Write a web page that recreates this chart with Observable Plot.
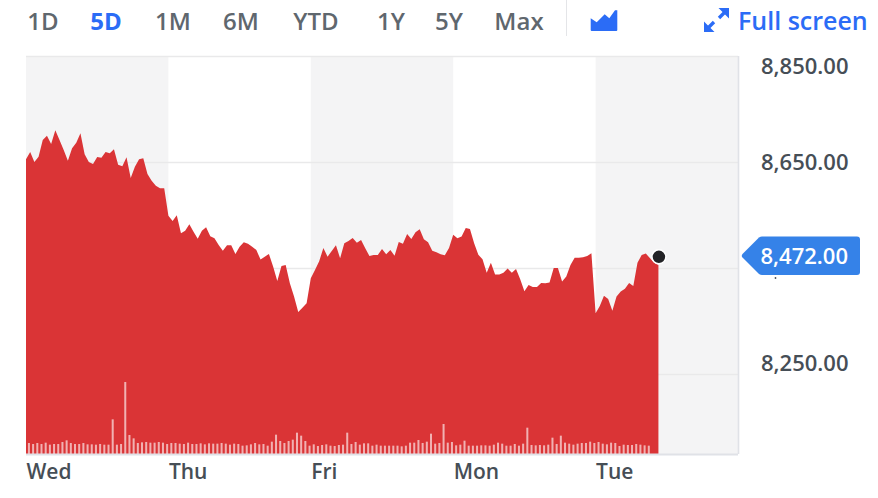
<!DOCTYPE html>
<html>
<head>
<meta charset="utf-8">
<script src="https://cdn.jsdelivr.net/npm/d3@7"></script>
<script src="https://cdn.jsdelivr.net/npm/@observablehq/plot@0.6"></script>
<style>
html,body{margin:0;padding:0;background:#fff;overflow:hidden}
#page{position:relative;width:878px;height:498px;font-family:"Open Sans",sans-serif}
#page svg.plot{position:absolute;left:0;top:0}
.range{position:absolute;top:6px;font-size:24px;font-weight:600;line-height:30px;color:#5f676e;transform:translateX(-50%);white-space:nowrap}
.range.on{color:#2b6cf6;font-weight:700}
#sep{position:absolute;left:566px;top:0;width:1px;height:36px;background:#e4e5e8}
#fs{position:absolute;left:738px;top:5px;font-size:25px;font-weight:600;line-height:30px;color:#2b6cf6;white-space:nowrap}
.ic{position:absolute}
#tag{position:absolute;left:741px;width:120px;height:40px}
#tag span{position:absolute;left:19.5px;top:0;line-height:39px;font-size:22px;font-weight:600;color:#fff;white-space:nowrap}
</style>
</head>
<body>
<div id="page"></div>
<script>
const ranges = ["1D","5D","1M","6M","YTD","1Y","5Y","Max"];
const activeRange = "5D";
const rangeCentres = [43,106,173,241,316,391,449,519];
const days = ["Wed","Thu","Fri","Mon","Tue"];
const dayStarts = [0,34,68,102,136];
const shadedDays = [[0,34],[68,102],[136,170]];
const gridValues = [8850,8650,8450,8250];
const axisValues = [8850,8650,8250];
const axisLabels = ["8,850.00","8,650.00","8,250.00"];
const labelShift = [10,0,-11];
const hiddenLabelValue = 8450;
const lastPrice = 8472;
const lastLabel = "8,472.00";
const lastIndex = 151;
const yMin = 8099;
const yMax = 8850;
const xMax = 170;
const volumeUnit = 0.6289;
const prices = [
8655.0,8668.8,8650.0,8660.0,8691.5,8699.6,8683.9,8709.7,8691.5,8672.6,
8652.5,8675.7,8686.4,8704.0,8664.4,8650.0,8646.2,8659.4,8658.1,8668.8,
8666.3,8673.9,8644.9,8641.8,8658.8,8619.8,8641.2,8655.0,8656.9,8627.3,
8614.7,8605.3,8600.3,8600.3,8548.7,8538.6,8549.3,8515.4,8520.4,8532.4,
8518.5,8505.3,8520.4,8526.7,8509.7,8505.9,8493.4,8482.7,8492.7,8492.7,
8476.5,8490.3,8498.5,8495.9,8490.3,8484.0,8465.8,8471.4,8476.5,8452.6,
8425.5,8453.8,8455.7,8421.1,8396.0,8367.0,8375.2,8383.4,8430.5,8446.3,
8462.6,8487.8,8471.4,8482.1,8492.8,8468.3,8496.6,8501.0,8506.6,8497.8,
8502.9,8487.1,8472.7,8474.6,8474.6,8485.9,8475.8,8484.0,8473.3,8499.1,
8495.9,8514.2,8504.8,8517.3,8523.0,8504.1,8498.5,8482.7,8479.6,8475.8,
8473.9,8487.8,8512.9,8506.0,8509.2,8525.5,8523.6,8496.6,8475.2,8466.4,
8441.2,8460.1,8437.5,8437.5,8441.2,8448.8,8441.2,8448.2,8428.7,8406.0,
8418.0,8414.2,8414.2,8421.7,8421.1,8422.4,8450.0,8450.0,8424.3,8433.7,
8455.7,8469.5,8469.5,8470.2,8472.7,8477.7,8364.5,8378.3,8397.8,8391.6,
8369.5,8396.0,8405.4,8411.0,8421.7,8416.1,8460.1,8474.6,8477.1,8468.3,
8460.1,8455.7];
const volumes = [
33,30,33,30,34,28,30,30,36,41,33,30,30,33,29,29,28,30,28,28,
104,28,30,216,57,47,33,35,36,34,34,36,34,30,33,33,31,30,34,30,
30,32,29,32,31,31,33,31,28,31,30,25,26,29,33,29,30,25,37,58,
39,33,39,43,64,55,39,25,29,24,27,29,25,24,27,28,64,30,36,28,
32,32,25,28,25,25,25,25,25,23,25,34,34,42,33,37,61,31,33,90,
34,36,26,28,40,25,25,25,26,26,25,28,34,31,25,25,30,25,31,79,
27,26,27,26,28,49,30,55,34,31,28,31,33,33,37,33,36,31,29,34,
33,24,28,27,27,30,28,26,25];

const red = "#da3436";
const plot = Plot.plot({
  width: 878, height: 498,
  marginTop: 56, marginBottom: 44, marginLeft: 26, marginRight: 140,
  style: {background:"transparent", fontFamily:"'Open Sans',sans-serif", overflow:"visible"},
  x: {domain:[0,xMax], axis:null},
  y: {domain:[yMin,yMax], axis:null},
  marks: [
    Plot.rect(shadedDays, {x1:d=>d[0], x2:d=>d[1], y1:yMin, y2:yMax, fill:"#f4f4f5"}),
    Plot.ruleY(gridValues, {stroke:"#e9e9ea", strokeWidth:1.6}),
    Plot.areaY(prices, {x:(d,i)=>i, y1:yMin, y2:d=>d, fill:red, curve:"linear"}),
    Plot.rect(volumes, {x1:(d,i)=>i+0.46, x2:(d,i)=>i+0.94, y1:yMin, y2:d=>yMin+d*volumeUnit, fill:"#fff", fillOpacity:0.62}),
    Plot.ruleY([yMin], {stroke:"#e0e2e7", strokeWidth:2}),
    Plot.ruleX([xMax], {stroke:"#e0e2e7", strokeWidth:1.6}),
    Plot.dot([lastPrice], {x:lastIndex, y:d=>d, r:7, fill:"#222326", stroke:"#fff", strokeWidth:1.5}),
    Plot.dot([hiddenLabelValue], {y:d=>d, frameAnchor:"right", dx:37, dy:9.5, r:0.9, fill:"#464e56"}),
    ...axisValues.map((v,i)=>Plot.text([axisLabels[i]], {
      y:v, text:d=>d, frameAnchor:"right", textAnchor:"start", dx:22.5, dy:labelShift[i],
      fill:"#464e56", fontSize:22, fontWeight:600
    })),
    Plot.text(days, {
      x:(d,i)=>dayStarts[i], text:d=>d, frameAnchor:"bottom", textAnchor:"start", dy:24,
      fill:"#464e56", fontSize:21, fontWeight:600
    })
  ]
});
const page = document.getElementById("page");
page.appendChild(plot);

ranges.forEach((r,i)=>{
  const d = document.createElement("div");
  d.className = "range" + (r===activeRange ? " on" : "");
  d.style.left = rangeCentres[i] + "px";
  d.textContent = r;
  page.appendChild(d);
});
const sep = document.createElement("div"); sep.id = "sep"; page.appendChild(sep);
page.insertAdjacentHTML("beforeend", `
<svg class="ic" style="left:590px;top:10px" width="28" height="22" viewBox="0 0 28 22">
  <path d="M0.7 8.3 L6.7 12.3 L14.7 4.3 L19.3 8.3 L25 0.3 H27.3 V20 Q27.3 21 26.3 21 H1.7 Q0.7 21 0.7 20 Z" fill="#2b6cf6"/>
</svg>
<svg class="ic" style="left:703px;top:7px" width="27" height="26" viewBox="0 0 27 26">
  <g fill="#2b6cf6">
    <path d="M15.5 1 H26 V11.5 L22.3 7.8 Z"/>
    <path d="M1 14.5 V25 H11.5 L4.7 18.2 Z"/>
  </g>
  <g stroke="#2b6cf6" stroke-width="3.4" fill="none">
    <path d="M21.5 5.5 L16 11"/><path d="M5.5 20.5 L11 15"/>
  </g>
</svg>
<div id="fs">Full screen</div>`);

const tagY = plot.scale("y").apply(lastPrice);
const tag = document.createElement("div");
tag.id = "tag";
tag.style.top = (tagY - 20) + "px";
tag.innerHTML = `<svg width="120" height="40" viewBox="0 0 120 40" style="position:absolute;left:0;top:0">
  <path d="M1.5 18 L18 1.5 Q19.5 0.5 21 0.5 H116 Q119 0.5 119 3.5 V36 Q119 39 116 39 H21 Q19.5 39 18 38 L1.5 21.5 Q0 20 1.5 18 Z" fill="#3582e8"/>
</svg><span>${lastLabel}</span>`;
page.appendChild(tag);
</script>
</body>
</html>
